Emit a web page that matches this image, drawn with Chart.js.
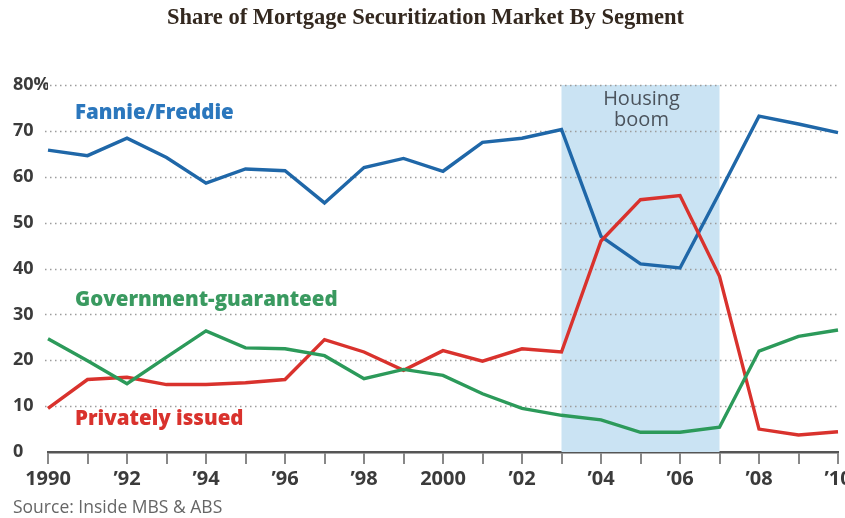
<!DOCTYPE html>
<html>
<head>
<meta charset="utf-8">
<script src="https://cdn.jsdelivr.net/npm/chart.js@4.4.1/dist/chart.umd.min.js"></script>
<style>
  html, body { margin: 0; padding: 0; background: #fff; }
  #wrap { position: relative; width: 845px; height: 518px; overflow: hidden; }
  #title {
    position: absolute; left: 0; top: 4px; width: 851px; text-align: center;
    font: bold 22.5px "Liberation Serif", "DejaVu Serif", serif; color: #33281f;
  }
  #source {
    position: absolute; left: 13px; top: 494px;
    font: 17.5px "Open Sans", sans-serif; color: #666;
  }
  #box { position: absolute; left: 0; top: 0; width: 845px; height: 518px; }
</style>
</head>
<body>
<div id="wrap">
  <div id="box"><canvas id="chart"></canvas></div>
  <div id="title">Share of Mortgage Securitization Market By Segment</div>
  <div id="source">Source: Inside MBS &amp; ABS</div>
</div>
<script>
// ── Data ──────────────────────────────────────────────────────────────────────
const years = ['1990', '1991', '1992', '1993', '1994', '1995', '1996', '1997', '1998', '1999', '2000',
               '2001', '2002', '2003', '2004', '2005', '2006', '2007', '2008', '2009', '2010'];
const xTickLabels = ['1990', '', '’92', '', '’94', '', '’96', '', '’98', '', '2000',
                     '', '’02', '', '’04', '', '’06', '', '’08', '', '’10'];
const fannieFreddie = [65.8, 64.6, 68.4, 64.2, 58.6, 61.7, 61.3, 54.3, 62.0, 64.0, 61.2,
                       67.5, 68.4, 70.3, 47.0, 41.0, 40.1, 56.5, 73.2, 71.5, 69.6];
const governmentGuaranteed = [24.7, 19.9, 14.9, 20.7, 26.4, 22.7, 22.5, 21.0, 16.0, 18.0, 16.7,
                              12.7, 9.5, 8.0, 7.0, 4.3, 4.3, 5.4, 22.0, 25.2, 26.6];
const privatelyIssued = [9.5, 15.8, 16.3, 14.7, 14.7, 15.1, 15.8, 24.5, 21.8, 17.8, 22.1,
                         19.8, 22.5, 21.8, 46.0, 55.0, 55.9, 38.3, 5.0, 3.7, 4.4];
const yTicks = [0, 10, 20, 30, 40, 50, 60, 70, 80];
const boomStart = '2003';
const boomEnd = '2007';

const BLUE  = '#1f67a8';
const GREEN = '#2c9a5a';
const RED   = '#d9322d';
const TICK  = '#3b3b3b';

// shaded "housing boom" band, dotted grid + in-chart labels
const annotations = {
    id: 'annotations',
    beforeDatasetsDraw(chart) {
        const { ctx, chartArea, scales: { x, y } } = chart;
        const x0 = x.getPixelForValue(years.indexOf(boomStart));
        const x1 = x.getPixelForValue(years.indexOf(boomEnd));
        const yTop = y.getPixelForValue(80);
        ctx.save();
        ctx.fillStyle = '#cae3f3';
        ctx.fillRect(x0, yTop, x1 - x0, chartArea.bottom - yTop);

        // dotted horizontal grid
        ctx.strokeStyle = '#9c9c9c';
        ctx.lineWidth = 1.5;
        ctx.setLineDash([1.5, 3.5]);
        yTicks.filter(v => v > 0).forEach(v => {
            const py = Math.round(y.getPixelForValue(v)) + 0.5;
            ctx.beginPath();
            ctx.moveTo(chartArea.left - 3, py);
            ctx.lineTo(chartArea.right, py);
            ctx.stroke();
        });
        ctx.restore();
    },
    afterDatasetsDraw(chart) {
        const { ctx, chartArea, scales: { x } } = chart;
        const cx = (x.getPixelForValue(years.indexOf(boomStart)) + x.getPixelForValue(years.indexOf(boomEnd))) / 2;
        ctx.save();
        ctx.textBaseline = 'middle';
        ctx.textAlign = 'center';
        ctx.fillStyle = '#4b535c';
        ctx.font = '20px "Open Sans", sans-serif';
        ctx.fillText('Housing', cx + 1, 99);
        ctx.fillText('boom', cx + 1, 120);

        ctx.textAlign = 'left';
        ctx.font = '800 20.5px "Open Sans", sans-serif';
        const lx = chartArea.left + 27;
        ctx.fillStyle = '#2b77bd';
        ctx.fillText('Fannie/Freddie', lx, 113);
        ctx.fillStyle = '#3a9a60';
        ctx.fillText('Government-guaranteed', lx, 300);
        ctx.fillStyle = RED;
        ctx.fillText('Privately issued', lx, 419);
        ctx.restore();
    }
};

const line = (label, data, color) => ({
    label, data,
    borderColor: color,
    borderWidth: 3.4,
    pointRadius: 0,
    tension: 0,
    fill: false,
});

new Chart(document.getElementById('chart'), {
    type: 'line',
    data: {
        labels: years,
        datasets: [
            line('Government-guaranteed', governmentGuaranteed, GREEN),
            line('Privately issued', privatelyIssued, RED),
            line('Fannie/Freddie', fannieFreddie, BLUE),
        ]
    },
    options: {
        responsive: true, maintainAspectRatio: false, animation: false,
        layout: { padding: { left: 13, right: 7, top: 85, bottom: 0 } },
        plugins: { legend: { display: false }, tooltip: { enabled: false } },
        scales: {
            x: {
                offset: false,
                afterFit(scale) { scale.height = 66; scale.paddingLeft = 0; scale.paddingRight = 0; },
                border: { display: true, color: '#555', width: 2.5 },
                grid: { drawOnChartArea: false, drawTicks: true, tickLength: 12, color: '#888', lineWidth: 2 },
                ticks: {
                    autoSkip: false, maxRotation: 0, padding: 3, color: TICK,
                    font: { family: 'Open Sans', size: 20, weight: 'bold' },
                    callback: (v, i) => xTickLabels[i],
                },
            },
            y: {
                min: 0, max: 80,
                afterFit(scale) { scale.width = 35; scale.paddingTop = 0; scale.paddingBottom = 0; },
                afterBuildTicks(scale) { scale.ticks = yTicks.map(v => ({ value: v })); },
                border: { display: false },
                grid: { display: false },
                ticks: {
                    crossAlign: 'far', padding: 0, color: TICK,
                    font: { family: 'Open Sans', size: 18, weight: 'bold' },
                    callback: v => v === 80 ? '80%' : v,
                },
            },
        },
    },
    plugins: [annotations],
});
</script>
</body>
</html>
